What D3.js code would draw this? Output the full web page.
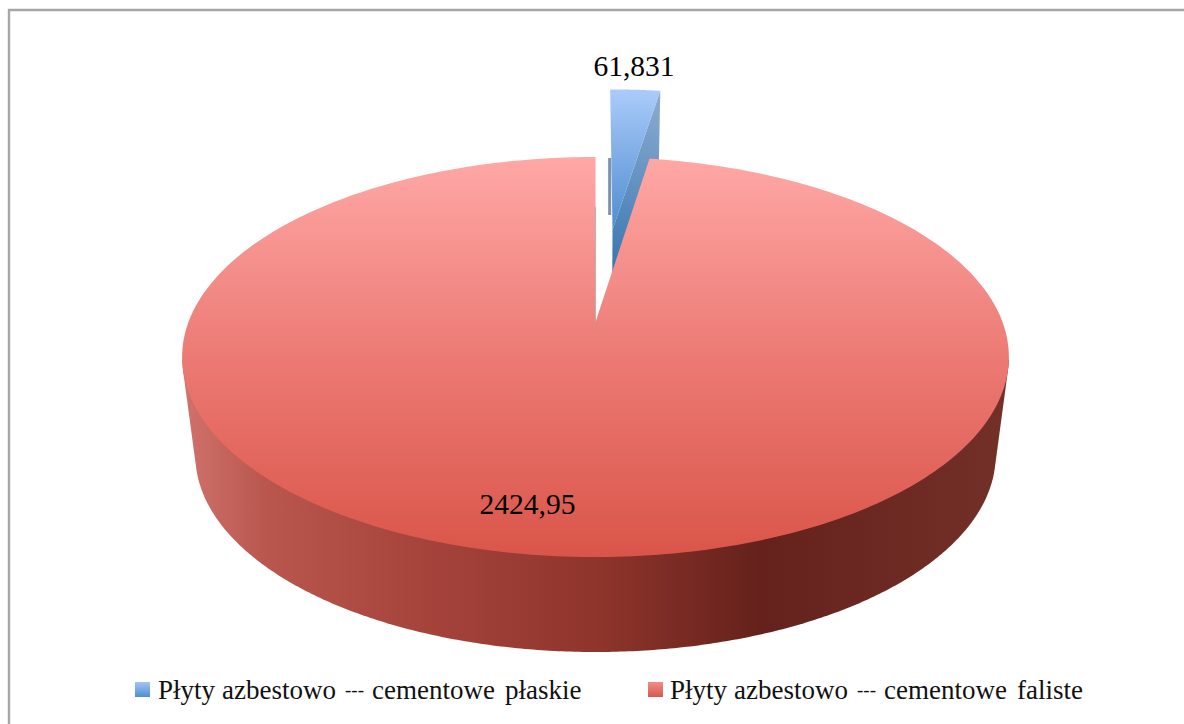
<!DOCTYPE html>
<html><head><meta charset="utf-8">
<script src="https://cdn.jsdelivr.net/npm/d3@7/dist/d3.min.js"></script>
<style>html,body{margin:0;padding:0;background:#fff}svg{display:block}</style>
</head><body><svg id="c" width="1184" height="724"></svg>
<script>
const categories = ["Płyty azbestowo --- cementowe płaskie", "Płyty azbestowo --- cementowe faliste"];
const values = [61.831, 2424.95];
const valueLabels = ["61,831", "2424,95"];

const W = 1184, H = 724;
const svg = d3.select("#c").attr("viewBox", `0 0 ${W} ${H}`);
const FONT = "'Liberation Serif','DejaVu Serif',serif";

// perspective projection of the unit pie disc onto the page
const K = -0.175;
const topFace = {x0: 595.5, y0: 322, a: 407, b: 193.9};
const botFace = {x0: 595.5, y0: 420.6, a: 394, b: 190.9};
function proj(f, u, v) {
  const w = 1 + K * v;
  return [f.x0 + f.a * u / w, f.y0 + f.b * v / w];
}
const polar = (theta, r) => [r * Math.sin(theta), -r * Math.cos(theta)];

const pie = d3.pie().sort(null).startAngle(0).endAngle(2 * Math.PI);
const arcs = pie(values);
const line = d3.line().curve(d3.curveLinearClosed);

function rim(f, a0, a1, off = [0, 0], n = 360) {
  return d3.range(0, n + 1).map(i => {
    const [u, v] = polar(a0 + (a1 - a0) * i / n, 1);
    return proj(f, u + off[0], v + off[1]);
  });
}

const defs = svg.append("defs");
function grad(id, stops, x1, y1, x2, y2) {
  const g = defs.append("linearGradient").attr("id", id)
    .attr("gradientUnits", "userSpaceOnUse")
    .attr("x1", x1).attr("y1", y1).attr("x2", x2).attr("y2", y2);
  stops.forEach(([o, c]) => g.append("stop").attr("offset", o).attr("stop-color", c));
}
grad("redTop", [[0, "#ffa8a6"], [0.5, "#ec7a74"], [1, "#da5549"]], 0, 157, 0, 557);
grad("redWall", [[0, "#d0736c"], [0.1, "#b9574f"], [0.3, "#a5433b"], [0.5, "#8f352c"], [0.7, "#65211b"], [1, "#733029"]], 182, 0, 1008, 0);
grad("blueTop", [[0, "#aacbfa"], [0.55, "#76a7e2"], [1, "#4a8ccb"]], 0, 90, 0, 235);
grad("blueSide", [[0, "#8dabd0"], [0.5, "#6090c0"], [1, "#2f72ad"]], 662, 95, 610, 285);
grad("legBlue", [[0, "#a8c8f6"], [1, "#4f8fd0"]], 0, 681, 0, 697);
grad("legRed", [[0, "#f0918d"], [1, "#d9574c"]], 0, 681, 0, 697);

// chart frame: only top and left edges are visible in the crop
const frame = d3.path();
frame.moveTo(9, H); frame.lineTo(9, 10); frame.lineTo(W, 10);
svg.append("path").attr("d", frame.toString()).attr("fill", "none")
  .attr("stroke", "#a6a6a6").attr("stroke-width", 2.4);

// exploded blue slice
const blue = arcs[0], red = arcs[1];
const mid = (blue.startAngle + blue.endAngle) / 2;
const EXPLODE = 0.52;
const off = [EXPLODE * Math.sin(mid) + 0.005, -EXPLODE * Math.cos(mid)];
const apexT = proj(topFace, off[0], off[1]);
const apexB = proj(botFace, off[0], off[1]);
const [uR, vR] = polar(blue.endAngle, 1);
const outerT = proj(topFace, uR + off[0], vR + off[1]);
const outerB = proj(botFace, uR + off[0], vR + off[1]);

// slim inner wall seen beside the slice
const [lx] = rim(topFace, 0, 0, off, 1)[0];
svg.append("rect").attr("x", lx - 2).attr("y", proj(topFace, 0, -1)[1] + 1)
  .attr("width", 3).attr("height", 57).attr("fill", "#7f90ad");

svg.append("path").attr("d", line([outerT, apexT, apexB, outerB]))
  .attr("fill", "url(#blueSide)");
svg.append("path").attr("d", line([apexT, ...rim(topFace, blue.startAngle, blue.endAngle, off, 30)]))
  .attr("fill", "url(#blueTop)");

// red wall: hull of the front half of both rims, its top chord stays under the top face
const wall = d3.polygonHull(rim(botFace, Math.PI * 0.5, Math.PI * 1.5)
  .concat(rim(topFace, Math.PI * 0.56, Math.PI * 1.44)));
svg.append("path").attr("d", line(wall)).attr("fill", "url(#redWall)");

// red top face
const apexRed = proj(topFace, 0, 0);
svg.append("path").attr("d", line([apexRed, ...rim(topFace, red.startAngle, red.endAngle)]))
  .attr("fill", "url(#redTop)");

// thin grey cut edge at the apex of the red slice
const leftRim = proj(topFace, 0, -1);
svg.append("line").attr("x1", apexRed[0]).attr("y1", apexRed[1])
  .attr("x2", leftRim[0]).attr("y2", leftRim[1] + 50)
  .attr("stroke", "#b9a6a6").attr("stroke-width", 0.8);

// value labels
const labelPos = [[634, 76], [527.5, 514]];
svg.selectAll("text.v").data(valueLabels).join("text").attr("class", "v")
  .attr("x", (d, i) => labelPos[i][0]).attr("y", (d, i) => labelPos[i][1])
  .attr("text-anchor", "middle").attr("font-family", FONT).attr("font-size", 29.5)
  .attr("fill", "#000").text(d => d);

// legend
const legendX = [135, 648], textX = [158, 670];
const wordOffsets = [0, 64, 187, 214, 347];
const legendFill = ["url(#legBlue)", "url(#legRed)"];
const lg = svg.selectAll("g.l").data(categories).join("g").attr("class", "l");
lg.append("rect").attr("x", (d, i) => legendX[i]).attr("y", 682)
  .attr("width", 15).attr("height", 15).attr("fill", (d, i) => legendFill[i]);
lg.each(function (d, i) {
  const t = d3.select(this).append("text").attr("y", 699)
    .attr("font-family", FONT).attr("font-size", 27).attr("fill", "#111");
  d.split(" ").forEach((word, j) => {
    const dash = word === "---";
    t.append("tspan").attr("x", textX[i] + wordOffsets[j])
      .attr("y", dash ? 696 : 699)
      .attr("font-size", dash ? 19 : 27)
      .text(word + (j < 4 ? " " : ""));
  });
});
</script></body></html>
